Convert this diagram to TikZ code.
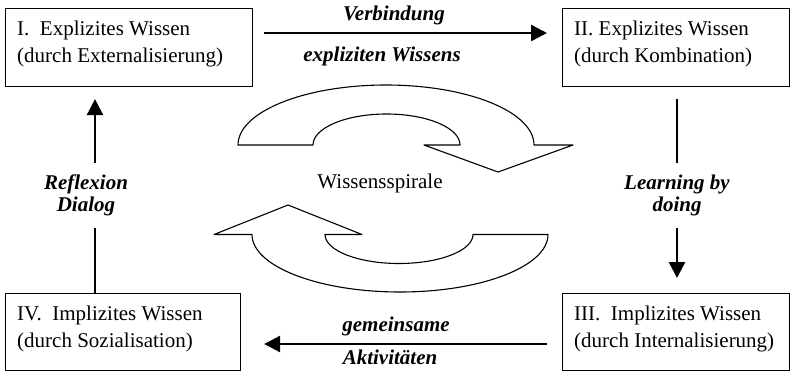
\documentclass[tikz,border=0pt]{standalone}
\usepackage{fontspec}
\setmainfont{Liberation Serif}
\usetikzlibrary{arrows.meta}

\tikzset{
  wbox/.style={draw, line width=1.1pt, anchor=north west, inner sep=0pt},
  wtext/.style={anchor=north west, inner sep=0pt, align=left,
    font=\fontsize{21}{26.7}\selectfont},
  flow/.style={line width=2.6pt, -{Triangle[length=16pt,width=16pt]}},
  flowlabel/.style={inner sep=0pt, align=center,
    font=\fontsize{21}{21.7}\selectfont\bfseries\itshape},
  spiral/.style={draw, line width=1.1pt, line join=round}
}

\begin{document}
\begin{tikzpicture}[x=1pt, y=-1pt]
    % Define canvas
    \useasboundingbox (0,0) rectangle (791,372);

    % Draw knowledge boxes
    \foreach \name/\xpos/\ypos/\boxwidth/\boxheight/\first/\second in {%
      expl1/5/8/247/78/{I.\ \ Explizites Wissen}/{(durch Externalisierung)},%
      expl2/562/8/227/78/{II. Explizites Wissen}/{(durch Kombination)},%
      expl3/562/293/227/77/{III.\ \ Implizites Wissen}/{(durch Internalisierung)},%
      expl4/5/293/235/77/{IV.\ \ Implizites Wissen}/{(durch Sozialisation)}%
    } {
        \node[wbox, minimum width=\boxwidth pt, minimum height=\boxheight pt] (\name) at (\xpos,\ypos) {};
        \node[wtext] (\name-text) at ([shift={(12,12.7)}]\name.north west) {\first\\\second};
    }

    % Draw transitions between the boxes
    \draw[flow, shorten <=11pt, shorten >=15pt] ([yshift=-25pt]expl1.north east) -- ([yshift=-25pt]expl2.north west);
    \draw[flow, shorten <=12pt, shorten >=15pt] ([xshift=115pt]expl2.south west) -- ([xshift=115pt]expl3.north west);
    \draw[flow, shorten <=15pt, shorten >=23pt] ([yshift=-51pt]expl3.north west) -- ([yshift=-51pt]expl4.north east);
    \draw[flow, shorten >=12pt] ([xshift=90pt]expl4.north west) -- ([xshift=90pt]expl1.south west);

    % Transition labels
    \node[flowlabel, anchor=base] (verb) at (394,20.7) {Verbindung};
    \node[flowlabel, anchor=base] (verbb) at (382,61.7) {expliziten Wissens};
    \node[flowlabel, fill=white, inner ysep=12pt, anchor=north] (learn) at (677,163) {Learning by\\doing};
    \node[flowlabel, anchor=base] (gemein) at (396,331.7) {gemeinsame};
    \node[flowlabel, anchor=base] (aktiv) at (390,364.3) {Aktivitäten};
    \node[flowlabel, fill=white, inner ysep=12pt, anchor=north] (reflex) at (86,163) {Reflexion\\Dialog};

    % Draw knowledge spiral
    \draw[spiral] (238,145) arc[start angle=180, end angle=360, x radius=148, y radius=60]
      -- (573,145) -- (498,172) -- (424,145) -- (460,145)
      arc[start angle=0, end angle=-180, x radius=73.5, y radius=31] -- cycle;
    \draw[spiral] (548,234.5) arc[start angle=0, end angle=180, x radius=148, y radius=57.5]
      -- (214,234.5) -- (288,205) -- (362,234.5) -- (325,234.5)
      arc[start angle=180, end angle=0, x radius=74, y radius=29] -- cycle;
    \node[anchor=base, font=\fontsize{21}{25}\selectfont] (spiraltext) at (380,188.7) {Wissensspirale};

\end{tikzpicture}
\end{document}
